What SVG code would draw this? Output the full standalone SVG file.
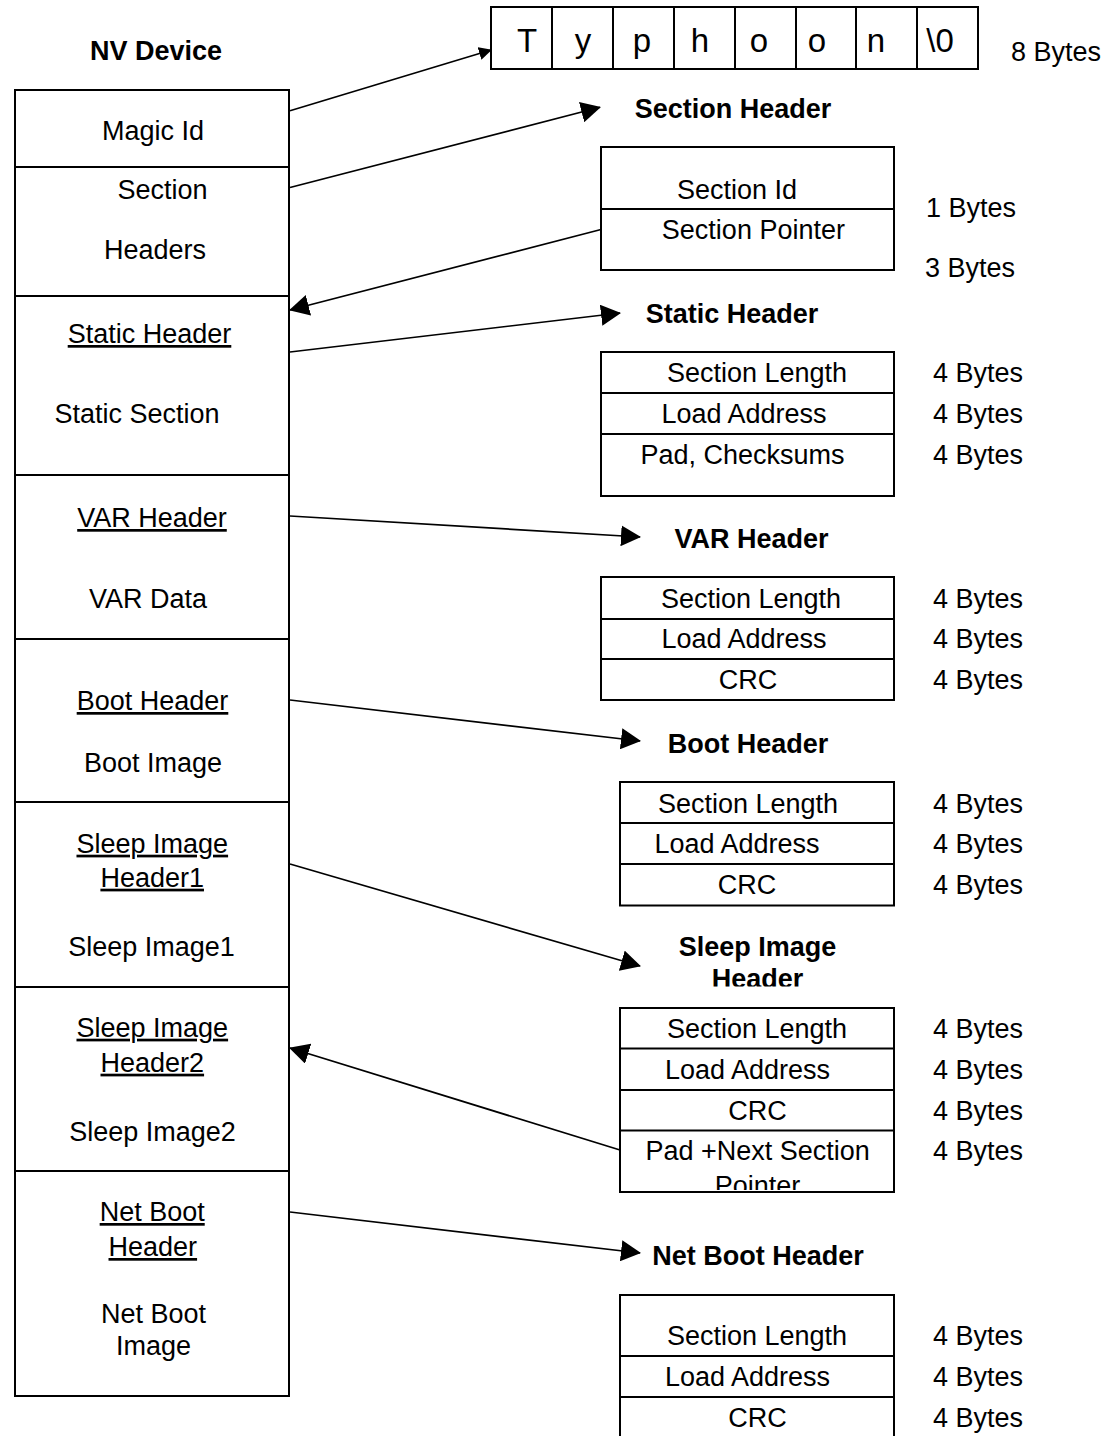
<svg xmlns="http://www.w3.org/2000/svg" width="1107" height="1436" viewBox="0 0 1107 1436">
  <style>
    text { font-family: "Liberation Sans", Arial, sans-serif; font-size: 27px; fill: #000; }
    .c { text-anchor: middle; }
    .b { font-weight: bold; }
    .u { text-decoration: underline; text-decoration-skip-ink: none; }
    .ch { font-size: 33px; text-anchor: middle; }
    .box { fill: #fff; stroke: #000; stroke-width: 2; }
    .div { stroke: #000; stroke-width: 2; fill: none; }
    .conn line { stroke: #000; stroke-width: 1.7; fill: none; }
  </style>
  <defs>
    <marker id="arrow" markerUnits="userSpaceOnUse" markerWidth="20" markerHeight="21" refX="19" refY="10.5" orient="auto">
      <path d="M0,0 L20,10.5 L0,21 Z" fill="#000"/>
    </marker>
    <marker id="arrowSmall" markerUnits="userSpaceOnUse" markerWidth="13" markerHeight="13" refX="12" refY="6.5" orient="auto">
      <path d="M0,0 L13,6.5 L0,13 Z" fill="#000"/>
    </marker>
    <clipPath id="clipSleepTitle"><rect x="600" y="920" width="320" height="66.5"/></clipPath>
    <clipPath id="clipPointer"><rect x="620" y="1130" width="274" height="60"/></clipPath>
  </defs>

  <rect width="1107" height="1436" fill="#fff"/>

  <!-- NV device memory layout -->
  <g id="nv-device">
    <text class="c b" x="156" y="60">NV Device</text>
    <rect class="box" x="15" y="90" width="274" height="1306"/>
    <path class="div" d="M15,167H289 M15,296H289 M15,475H289 M15,639H289 M15,802H289 M15,987H289 M15,1171H289"/>
    <text class="c" x="153" y="140">Magic Id</text>
    <text class="c" x="162.5" y="199">Section</text>
    <text class="c" x="155" y="259">Headers</text>
    <text class="c u" x="149.5" y="343">Static Header</text>
    <text class="c" x="137" y="423">Static Section</text>
    <text class="c u" x="152" y="527">VAR Header</text>
    <text class="c" x="148" y="608">VAR Data</text>
    <text class="c u" x="152.5" y="710">Boot Header</text>
    <text class="c" x="153" y="771.5">Boot Image</text>
    <text class="c u" x="152.3" y="852.7">Sleep Image</text>
    <text class="c u" x="152.2" y="886.7">Header1</text>
    <text class="c" x="151.5" y="956">Sleep Image1</text>
    <text class="c u" x="152.3" y="1036.7">Sleep Image</text>
    <text class="c u" x="152.3" y="1071.7">Header2</text>
    <text class="c" x="152.5" y="1140.7">Sleep Image2</text>
    <text class="c u" x="152.2" y="1221">Net Boot</text>
    <text class="c u" x="152.8" y="1256">Header</text>
    <text class="c" x="153.6" y="1323">Net Boot</text>
    <text class="c" x="153.6" y="1355">Image</text>
  </g>

  <!-- Magic id string -->
  <g id="magic">
    <rect class="box" x="491" y="7" width="487" height="62"/>
    <path class="div" d="M552,7V69 M613,7V69 M674,7V69 M735,7V69 M796,7V69 M856,7V69 M917,7V69"/>
    <text class="ch" x="527" y="52">T</text>
    <text class="ch" x="583" y="52">y</text>
    <text class="ch" x="642" y="52">p</text>
    <text class="ch" x="700" y="52">h</text>
    <text class="ch" x="759" y="52">o</text>
    <text class="ch" x="817" y="52">o</text>
    <text class="ch" x="876" y="52">n</text>
    <text class="ch" x="940" y="52">\0</text>
    <text x="1011" y="61">8 Bytes</text>
  </g>

  <!-- Section header -->
  <g id="section-header">
    <text class="c b" x="733" y="118">Section Header</text>
    <rect class="box" x="601" y="147" width="293" height="123"/>
    <path class="div" d="M601,209H894"/>
    <text class="c" x="737" y="199">Section Id</text>
    <text class="c" x="753.4" y="239.3">Section Pointer</text>
    <text x="926" y="216.7">1 Bytes</text>
    <text x="925" y="276.7">3 Bytes</text>
  </g>

  <!-- Static header -->
  <g id="static-header">
    <text class="c b" x="732" y="323">Static Header</text>
    <rect class="box" x="601" y="352" width="293" height="144"/>
    <path class="div" d="M601,393H894 M601,434H894"/>
    <text class="c" x="757" y="382">Section Length</text>
    <text class="c" x="744" y="423">Load Address</text>
    <text class="c" x="742.5" y="464">Pad, Checksums</text>
    <text x="933" y="382">4 Bytes</text>
    <text x="933" y="423">4 Bytes</text>
    <text x="933" y="464">4 Bytes</text>
  </g>

  <!-- VAR header -->
  <g id="var-header">
    <text class="c b" x="751.5" y="548">VAR Header</text>
    <rect class="box" x="601" y="577" width="293" height="123"/>
    <path class="div" d="M601,619H894 M601,659H894"/>
    <text class="c" x="751" y="608">Section Length</text>
    <text class="c" x="744" y="648">Load Address</text>
    <text class="c" x="748" y="689">CRC</text>
    <text x="933" y="608">4 Bytes</text>
    <text x="933" y="648">4 Bytes</text>
    <text x="933" y="689">4 Bytes</text>
  </g>

  <!-- Boot header -->
  <g id="boot-header">
    <text class="c b" x="748" y="753">Boot Header</text>
    <rect class="box" x="620" y="782" width="274" height="123.5"/>
    <path class="div" d="M620,823H894 M620,864H894"/>
    <text class="c" x="748" y="812.6">Section Length</text>
    <text class="c" x="737" y="853">Load Address</text>
    <text class="c" x="747" y="894">CRC</text>
    <text x="933" y="813">4 Bytes</text>
    <text x="933" y="853">4 Bytes</text>
    <text x="933" y="894">4 Bytes</text>
  </g>

  <!-- Sleep image header -->
  <g id="sleep-header">
    <g clip-path="url(#clipSleepTitle)">
      <text class="c b" x="757.5" y="955.5">Sleep Image</text>
      <text class="c b" x="757.5" y="988">Header</text>
    </g>
    <rect class="box" x="620" y="1008" width="274" height="184"/>
    <path class="div" d="M620,1048.5H894 M620,1090H894 M620,1130.5H894"/>
    <text class="c" x="757" y="1038">Section Length</text>
    <text class="c" x="747.5" y="1079.4">Load Address</text>
    <text class="c" x="757.5" y="1120">CRC</text>
    <text class="c" x="757.6" y="1159.5">Pad +Next Section</text>
    <text class="c" x="757.5" y="1195" clip-path="url(#clipPointer)">Pointer</text>
    <text x="933" y="1038">4 Bytes</text>
    <text x="933" y="1079">4 Bytes</text>
    <text x="933" y="1120">4 Bytes</text>
    <text x="933" y="1160">4 Bytes</text>
  </g>

  <!-- Net boot header -->
  <g id="netboot-header">
    <text class="c b" x="758" y="1265">Net Boot Header</text>
    <rect class="box" x="620" y="1295" width="274" height="160"/>
    <path class="div" d="M620,1356H894 M620,1397H894"/>
    <text class="c" x="757" y="1345">Section Length</text>
    <text class="c" x="747.5" y="1386">Load Address</text>
    <text class="c" x="757.5" y="1427">CRC</text>
    <text x="933" y="1345">4 Bytes</text>
    <text x="933" y="1386">4 Bytes</text>
    <text x="933" y="1427">4 Bytes</text>
  </g>

  <!-- Connectors -->
  <g id="connectors" class="conn">
    <line x1="290" y1="110.7" x2="491" y2="50" marker-end="url(#arrowSmall)"/>
    <line x1="290" y1="187.5" x2="600" y2="107.3" marker-end="url(#arrow)"/>
    <line x1="601" y1="229.5" x2="290" y2="310" marker-end="url(#arrow)"/>
    <line x1="290" y1="352" x2="620" y2="313" marker-end="url(#arrow)"/>
    <line x1="290" y1="516" x2="640" y2="537" marker-end="url(#arrow)"/>
    <line x1="290" y1="700" x2="640" y2="741" marker-end="url(#arrow)"/>
    <line x1="290" y1="864" x2="640" y2="966" marker-end="url(#arrow)"/>
    <line x1="620" y1="1150" x2="290" y2="1048" marker-end="url(#arrow)"/>
    <line x1="290" y1="1212" x2="640" y2="1253" marker-end="url(#arrow)"/>
  </g>
</svg>
